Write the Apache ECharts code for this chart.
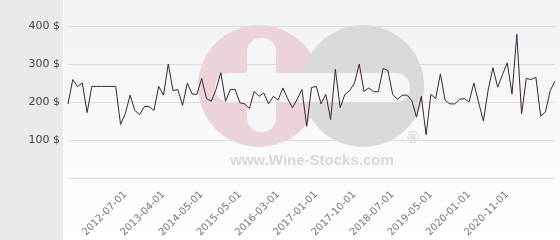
<!DOCTYPE html>
<html>
<head>
<meta charset="utf-8">
<script src="https://cdn.jsdelivr.net/npm/echarts@6/dist/echarts.min.js"></script>
<style>html,body{margin:0;padding:0;background:#fff}#c{width:560px;height:240px}</style>
</head>
<body>
<div id="c"></div>
<script>
const categories = [
'2011-07-01','2011-08-01','2011-09-01','2011-10-01','2011-11-01','2011-12-01',
'2012-01-01','2012-02-01','2012-03-01','2012-04-01','2012-05-01','2012-06-01',
'2012-07-01','2012-08-01','2012-09-01','2012-10-01','2012-11-01','2013-01-01','2013-02-01','2013-03-01',
'2013-04-01','2013-05-01','2013-06-01','2013-08-01','2013-10-01','2013-12-01','2014-01-01','2014-03-01',
'2014-05-01','2014-06-01','2014-08-01','2014-09-01','2014-11-01','2015-01-01','2015-02-01','2015-04-01',
'2015-05-01','2015-06-01','2015-07-01','2015-09-01','2015-10-01','2015-11-01','2016-01-01','2016-02-01',
'2016-03-01','2016-04-01','2016-05-01','2016-07-01','2016-08-01','2016-09-01','2016-11-01','2016-12-01',
'2017-01-01','2017-02-01','2017-03-01','2017-04-01','2017-05-01','2017-07-01','2017-08-01','2017-09-01',
'2017-10-01','2017-11-01','2017-12-01','2018-01-01','2018-02-01','2018-04-01','2018-05-01','2018-06-01',
'2018-07-01','2018-08-01','2018-09-01','2018-11-01','2018-12-01','2019-01-01','2019-03-01','2019-04-01',
'2019-05-01','2019-06-01','2019-07-01','2019-08-01','2019-09-01','2019-10-01','2019-11-01','2019-12-01',
'2020-01-01','2020-02-01','2020-03-01','2020-05-01','2020-06-01','2020-07-01','2020-09-01','2020-10-01',
'2020-11-01','2020-12-01','2021-01-01','2021-02-01','2021-03-01','2021-04-01','2021-05-01','2021-06-01',
'2021-07-01','2021-08-01','2021-09-01'
];
const prices = [
195,259,241,250,172,241,241,241,241,241,241,141,
169,218,178,167,188,188,178,241,
218,300,230,233,191,250,221,220,
262,209,202,233,277,202,233,233,
198,195,183,228,215,224,195,215,
205,237,209,185,207,233,136,238,
241,195,220,154,286,185,220,230,
250,300,228,237,227,227,288,283,
220,207,218,218,204,160,215,114,
220,209,274,204,195,195,207,209,
200,250,199,150,232,290,239,272,
303,221,378,169,262,259,265,163,
174,230,255
];
const tickLabels = ['2012-07-01','2013-04-01','2014-05-01','2015-05-01','2016-03-01','2017-01-01',
  '2017-10-01','2018-07-01','2019-05-01','2020-01-01','2020-11-01'];
const yTicks = [0,100,200,300,400];
const yLabelled = [100,200,300,400];

const chart = echarts.init(document.getElementById('c'), null, {renderer:'canvas'});
chart.setOption({
  animation:false,
  backgroundColor:'#ffffff',
  graphic:[
    {type:'rect', z:-10, shape:{x:63,y:0,width:497,height:240}, silent:true,
     style:{fill:new echarts.graphic.LinearGradient(0,0,0,1,[{offset:0,color:'#f1f2f6'},{offset:1,color:'#ffffff'}])}},
    {type:'rect', z:-10, shape:{x:0,y:0,width:63,height:240}, silent:true, style:{fill:'#e7ebee'}},
    {type:'rect', z:-9, shape:{x:63,y:0,width:1,height:240}, silent:true, style:{fill:'#ffffff'}},
    {type:'circle', z:-8, shape:{cx:259,cy:86,r:61}, silent:true, style:{fill:'#ecd3d9'}},
    {type:'circle', z:-7, shape:{cx:363,cy:86,r:61}, silent:true, style:{fill:'#d9d9db'}},
    {type:'rect', z:-6, shape:{x:247,y:38,width:29,height:94,r:14}, silent:true, style:{fill:'#f6f6f9'}},
    {type:'rect', z:-6, shape:{x:215,y:73,width:195,height:29,r:14}, silent:true, style:{fill:'#f6f6f9'}},
    {type:'text', z:-6, x:312, y:161, silent:true,
     style:{text:'www.Wine-Stocks.com', fill:'#d9d9d9', font:'bold 15px "Liberation Sans", Arial, sans-serif', align:'center', verticalAlign:'middle'}},
    {type:'text', z:-6, x:413, y:139, silent:true,
     style:{text:'®', fill:'#d3d3d3', font:'15px "DejaVu Sans", sans-serif', align:'center', verticalAlign:'middle'}}
  ],
  grid:{left:68, right:5, top:26, bottom:62, containLabel:false},
  xAxis:{
    type:'category', data:categories, boundaryGap:false,
    axisLine:{show:false}, axisTick:{show:false}, splitLine:{show:false},
    axisLabel:{
      interval:function(i, v){ return tickLabels.indexOf(v) >= 0; },
      rotate:45, margin:15, color:'#777', fontSize:10, fontFamily:'DejaVu Sans'
    }
  },
  yAxis:{
    type:'value', min:yTicks[0], max:yTicks[yTicks.length-1], interval:100,
    axisLine:{show:false}, axisTick:{show:false},
    splitLine:{lineStyle:{color:'#dcdcdf', width:1}},
    axisLabel:{formatter:function(v){ return yLabelled.indexOf(v) >= 0 ? v + ' $' : ''; },
      color:'#444', fontSize:11, fontFamily:'DejaVu Sans', margin:8}
  },
  series:[{
    type:'line', data:prices, showSymbol:false, symbol:'none', z:5,
    lineStyle:{color:'#3d2433', width:1}
  }]
});
</script>
</body>
</html>
